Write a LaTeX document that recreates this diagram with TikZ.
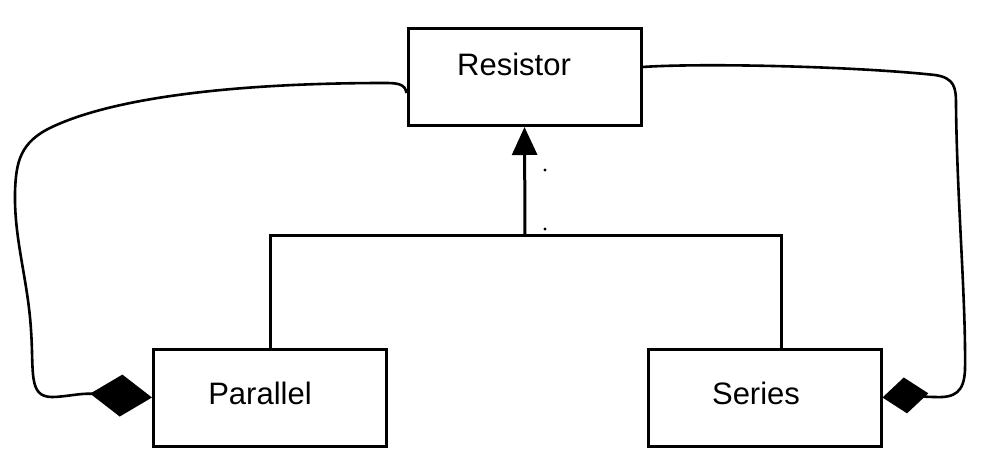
\documentclass[tikz,border=0pt]{standalone}
\usepackage{fontspec}
\setmainfont{Liberation Sans}
\usetikzlibrary{arrows.meta}

\begin{document}
\begin{tikzpicture}[x=1pt, y=-1pt, line width=3pt,
    classbox/.style={draw, rectangle, inner sep=0pt, minimum width=233pt, minimum height=97pt},
    classname/.style={inner sep=0pt, font=\fontsize{31}{36}\selectfont},
    composition/.style={-{Diamond[length=62pt, width=42pt]}, line width=2.6pt},
    generalization/.style={-{Triangle[length=28pt, width=25pt]}}]
    \useasboundingbox (0, 0) rectangle (983, 476);

    \node[classbox] (resistor) at (524.5, 77) {};
    \node[classbox] (parallel) at (270, 397.5) {};
    \node[classbox] (series) at (764.5, 397.5) {};

    \node[classname] (resistorname) at (514, 64) {Resistor};
    \node[classname] (parallelname) at (260, 393) {Parallel};
    \node[classname] (seriesname) at (756, 393) {Series};

    \coordinate (join) at (525, 235);
    \draw (parallel.north) |- (join);
    \draw ([xshift=17pt]series.north) |- (join);
    \draw[generalization] (join) -- (resistor.south);

    % stray pen dots
    \fill (545, 170) circle (1.6pt);
    \fill (545, 229) circle (1.6pt);

    \draw[composition] ([yshift=-16pt]resistor.west)
        .. controls (405, 84) and (398, 83) .. (385, 83)
        .. controls (250, 83) and (120, 95) .. (52, 127)
        .. controls (20, 142) and (16, 162) .. (15, 192)
        .. controls (14, 240) and (28, 280) .. (31, 330)
        .. controls (34, 372) and (28, 397) .. (52, 397)
        .. controls (65, 397) and (80, 393) .. (parallel.west);

    \draw[composition, -{Diamond[length=46pt, width=36pt]}] ([yshift=10pt]resistor.east)
        .. controls (700, 63) and (850, 66) .. (935, 75)
        .. controls (955, 78) and (956, 88) .. (956, 105)
        .. controls (957, 200) and (966, 300) .. (965, 370)
        .. controls (964, 392) and (955, 398) .. (935, 397)
        .. controls (920, 397) and (910, 395) .. (series.east);
\end{tikzpicture}
\end{document}
